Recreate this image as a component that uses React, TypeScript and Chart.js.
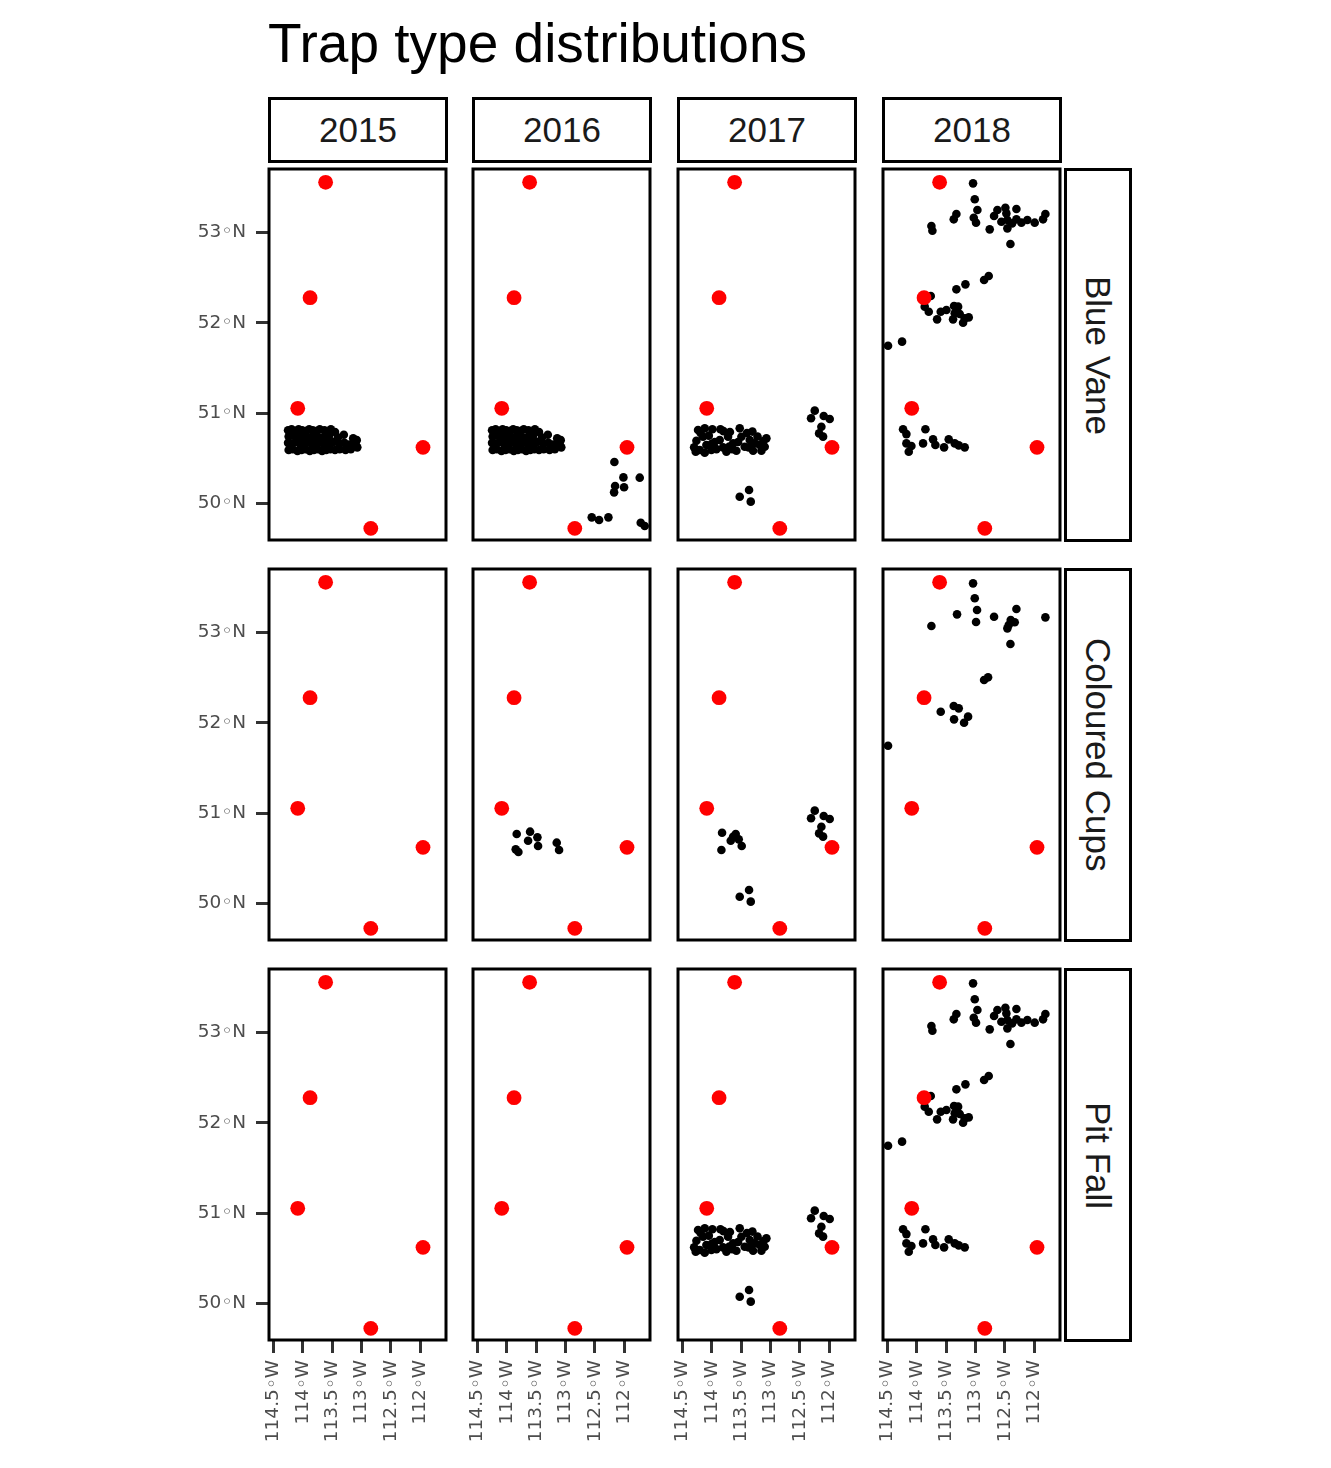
import React, { useEffect, useRef } from "react";
import { Chart, registerables } from "chart.js";

Chart.register(...registerables);

// ---------------- data ----------------
const chartTitle = "Trap type distributions";
const years = ["2015", "2016", "2017", "2018"];
const trapTypes = ["Blue Vane", "Coloured Cups", "Pit Fall"];

const latTicks = [50, 51, 52, 53];
const latTickLabels = ["50◦N", "51◦N", "52◦N", "53◦N"];
const lonTicks = [-114.5, -114, -113.5, -113, -112.5, -112];
const lonTickLabels = ["114.5◦W", "114◦W", "113.5◦W", "113◦W", "112.5◦W", "112◦W"];

const lonMin = -114.575;
const lonMax = -111.558;
const latMin = 49.593;
const latMax = 53.706;

// reference locations (red)
const refLon = [-113.61, -113.875, -114.085, -111.95, -112.84];
const refLat = [53.558, 52.279, 51.053, 50.62, 49.722];

type P = [number, number];

// dense southern cluster (Blue Vane 2015 / 2016)
const clusterSouth: P[] = [
  [-114.25, 50.81], [-114.19, 50.82], [-114.13, 50.80], [-114.07, 50.82], [-114.01, 50.81],
  [-113.95, 50.80], [-113.89, 50.82], [-113.83, 50.81], [-113.77, 50.80], [-113.71, 50.82],
  [-113.63, 50.81], [-113.52, 50.82], [-113.45, 50.79],
  [-114.24, 50.74], [-114.17, 50.75], [-114.10, 50.73], [-114.04, 50.74], [-113.97, 50.75],
  [-113.90, 50.73], [-113.84, 50.74], [-113.77, 50.75], [-113.70, 50.73], [-113.62, 50.74],
  [-113.55, 50.75], [-113.40, 50.73], [-113.30, 50.76], [-113.14, 50.72], [-113.08, 50.70],
  [-114.25, 50.67], [-114.18, 50.66], [-114.11, 50.68], [-114.05, 50.66], [-113.98, 50.67],
  [-113.91, 50.68], [-113.85, 50.66], [-113.78, 50.67], [-113.71, 50.68], [-113.64, 50.66],
  [-113.57, 50.67], [-113.48, 50.68], [-113.38, 50.66], [-113.29, 50.67], [-113.21, 50.65],
  [-113.10, 50.66],
  [-114.24, 50.59], [-114.17, 50.60], [-114.09, 50.58], [-114.02, 50.59], [-113.95, 50.60],
  [-113.88, 50.58], [-113.81, 50.59], [-113.74, 50.60], [-113.67, 50.58], [-113.60, 50.59],
  [-113.53, 50.60], [-113.45, 50.59], [-113.37, 50.60], [-113.27, 50.59], [-113.18, 50.60],
  [-113.07, 50.62],
];

// south-east sites, Blue Vane 2016
const southEast2016: P[] = [
  [-112.165, 50.457], [-112.011, 50.287], [-111.733, 50.284], [-112.153, 50.191],
  [-112.17, 50.121], [-112.0, 50.177], [-112.551, 49.844], [-112.426, 49.815],
  [-112.267, 49.844], [-111.716, 49.785], [-111.648, 49.748],
];

// southern cluster 2017
const cluster2017: P[] = [
  [-114.233, 50.812], [-114.119, 50.831], [-113.989, 50.82], [-113.852, 50.82],
  [-113.523, 50.831], [-113.307, 50.795], [-113.068, 50.72], [-114.261, 50.694],
  [-114.148, 50.738], [-114.091, 50.646], [-114.205, 50.591], [-114.006, 50.591],
  [-113.864, 50.701], [-113.807, 50.62], [-113.722, 50.738], [-113.636, 50.664],
  [-113.58, 50.583], [-113.494, 50.738], [-113.438, 50.627], [-113.352, 50.701],
  [-113.267, 50.664], [-113.182, 50.646], [-113.097, 50.627], [-113.295, 50.583],
  [-113.153, 50.583], [-114.273, 50.572], [-114.119, 50.561], [-113.75, 50.572],
  [-114.19, 50.78], [-114.05, 50.75], [-113.95, 50.68], [-113.92, 50.60],
  [-113.80, 50.80], [-113.69, 50.79], [-113.65, 50.60], [-113.55, 50.68],
  [-113.40, 50.78], [-113.37, 50.62], [-113.22, 50.74], [-113.12, 50.69],
  [-114.30, 50.62], [-114.00, 50.66], [-113.70, 50.63],
];
const east2017: P[] = [
  [-112.244, 51.027], [-112.307, 50.942], [-112.091, 50.967], [-111.989, 50.934],
  [-112.131, 50.849], [-112.17, 50.775], [-112.102, 50.739],
];
const south2017: P[] = [[-113.364, 50.147], [-113.523, 50.073], [-113.335, 50.018]];

// 2018 sites
const north2018: P[] = [
  [-113.04, 53.547], [-113.011, 53.37], [-112.966, 53.251], [-113.028, 53.166],
  [-112.989, 53.111], [-113.324, 53.207], [-113.369, 53.148], [-113.75, 53.074],
  [-113.733, 53.022], [-112.682, 53.185], [-112.625, 53.251], [-112.489, 53.277],
  [-112.472, 53.214], [-112.301, 53.262], [-112.557, 53.122], [-112.455, 53.14],
  [-112.455, 53.048], [-112.375, 53.103], [-112.301, 53.148], [-112.216, 53.111],
  [-112.114, 53.14], [-111.989, 53.111], [-111.847, 53.148], [-111.807, 53.207],
  [-112.756, 53.037], [-112.403, 52.874],
];
const mid2018: P[] = [
  [-112.852, 52.475], [-112.773, 52.52], [-113.17, 52.427], [-113.324, 52.372],
  [-113.761, 52.298], [-113.864, 52.18], [-113.795, 52.124], [-113.653, 52.039],
  [-113.591, 52.124], [-113.494, 52.143], [-113.364, 52.187], [-113.295, 52.18],
  [-113.352, 52.106], [-113.267, 52.098], [-113.381, 52.039], [-113.21, 52.002],
  [-113.182, 52.05], [-113.114, 52.061],
];
const west2018: P[] = [[-114.489, 51.747], [-114.25, 51.792]];
const south2018: P[] = [
  [-114.233, 50.82], [-114.176, 50.767], [-113.852, 50.82], [-114.176, 50.664],
  [-114.091, 50.635], [-114.136, 50.572], [-113.892, 50.664], [-113.722, 50.709],
  [-113.682, 50.646], [-113.534, 50.62], [-113.455, 50.709], [-113.352, 50.664],
  [-113.284, 50.642], [-113.182, 50.62],
];

// Coloured Cups
const cups2016: P[] = [
  [-113.83, 50.768], [-113.602, 50.794], [-113.477, 50.731], [-113.636, 50.694],
  [-113.466, 50.635], [-113.847, 50.598], [-113.801, 50.568], [-113.148, 50.672],
  [-113.108, 50.591],
];
const cups2017: P[] = [
  [-113.824, 50.782], [-113.591, 50.767], [-113.636, 50.738], [-113.676, 50.694],
  [-113.54, 50.709], [-113.489, 50.635], [-113.835, 50.591],
];
const cups2018: P[] = [
  [-113.04, 53.547], [-113.011, 53.381], [-112.972, 53.251], [-112.989, 53.118],
  [-113.313, 53.203], [-113.75, 53.074], [-112.682, 53.177], [-112.301, 53.262],
  [-112.398, 53.14], [-112.33, 53.115], [-112.455, 53.048], [-112.432, 53.085],
  [-111.807, 53.17], [-112.403, 52.874], [-112.852, 52.475], [-112.784, 52.505],
  [-113.591, 52.124], [-113.369, 52.187], [-113.284, 52.161], [-113.364, 52.039],
  [-113.193, 52.002], [-113.125, 52.069], [-114.489, 51.747],
];

const blueVane: P[][] = [
  clusterSouth,
  [...clusterSouth, ...southEast2016],
  [...cluster2017, ...east2017, ...south2017],
  [...north2018, ...mid2018, ...west2018, ...south2018],
];
const colouredCups: P[][] = [
  [],
  cups2016,
  [...cups2017, ...east2017, ...south2017],
  cups2018,
];
const pitFall: P[][] = [
  [],
  [],
  [...cluster2017, ...east2017, ...south2017],
  [...north2018, ...mid2018, ...west2018, ...south2018],
];
const trapData: P[][][] = [blueVane, colouredCups, pitFall];

// ---------------- layout ----------------
const FONT = "'Liberation Sans', Arial, Helvetica, sans-serif";
const TICK_FONT = "'DejaVu Sans', 'Liberation Sans', sans-serif";
const PANEL_W = 177;
const PANEL_H = 371;
const COL_LEFT = [269, 473, 678, 883];
const ROW_TOP = [169, 569, 969];
const PAD = 12;
const YW = 78;
const XH = 110;

const panelBorder = {
  id: "panelBorder",
  afterDraw(chart: any) {
    const { ctx, chartArea } = chart;
    const { left, top, right, bottom } = chartArea;
    ctx.save();
    ctx.strokeStyle = "#000000";
    ctx.lineWidth = 3;
    ctx.strokeRect(left, top, right - left, bottom - top);
    ctx.restore();
  },
};

function Panel({ row, col }: { row: number; col: number }) {
  const ref = useRef<HTMLCanvasElement | null>(null);
  const showY = col === 0;
  const showX = row === trapTypes.length - 1;
  const w = PANEL_W + 2 * PAD + (showY ? YW : 0);
  const h = PANEL_H + 2 * PAD + (showX ? XH : 0);
  const left = COL_LEFT[col] - PAD - (showY ? YW : 0);
  const top = ROW_TOP[row] - PAD;

  useEffect(() => {
    if (!ref.current) return;
    const traps = trapData[row][col];
    const tickFont = { family: TICK_FONT, size: 18.5 };
    const chart = new Chart(ref.current, {
      type: "scatter",
      data: {
        datasets: [
          {
            label: "Reference",
            data: refLon.map((x, i) => ({ x, y: refLat[i] })),
            backgroundColor: "#FF0000",
            pointRadius: 7.4,
            pointBorderWidth: 0,
            borderWidth: 0,
            order: 0,
          },
          {
            label: "Traps",
            data: traps.map(([x, y]) => ({ x, y })),
            backgroundColor: "#000000",
            pointRadius: 4.3,
            pointBorderWidth: 0,
            borderWidth: 0,
            order: 1,
          },
        ],
      },
      options: {
        animation: false,
        responsive: false,
        devicePixelRatio: 1,
        events: [],
        layout: { padding: PAD, autoPadding: false },
        plugins: { legend: { display: false }, tooltip: { enabled: false }, title: { display: false } },
        scales: {
          x: {
            type: "linear",
            min: lonMin,
            max: lonMax,
            display: showX,
            afterBuildTicks: (s: any) => {
              s.ticks = lonTicks.map((v) => ({ value: v }));
            },
            afterFit: (s: any) => {
              s.height = showX ? XH : 0;
              s.paddingLeft = 0;
              s.paddingRight = 0;
              s.paddingTop = 0;
              s.paddingBottom = 0;
            },
            ticks: {
              autoSkip: false,
              minRotation: 90,
              maxRotation: 90,
              padding: 7,
              color: "#4D4D4D",
              font: tickFont,
              callback: (v: any) => lonTickLabels[lonTicks.indexOf(Number(v))] ?? "",
            },
            grid: {
              display: true,
              drawOnChartArea: false,
              drawTicks: true,
              tickLength: 13,
              color: "#333333",
              lineWidth: 3,
            },
            border: { display: false },
          },
          y: {
            type: "linear",
            min: latMin,
            max: latMax,
            display: showY,
            afterBuildTicks: (s: any) => {
              s.ticks = latTicks.map((v) => ({ value: v }));
            },
            afterFit: (s: any) => {
              s.width = showY ? YW : 0;
              s.paddingLeft = 0;
              s.paddingRight = 0;
              s.paddingTop = 0;
              s.paddingBottom = 0;
            },
            ticks: {
              autoSkip: false,
              padding: 10,
              color: "#4D4D4D",
              font: tickFont,
              callback: (v: any) => latTickLabels[latTicks.indexOf(Number(v))] ?? "",
            },
            grid: {
              display: true,
              drawOnChartArea: false,
              drawTicks: true,
              tickLength: 13,
              color: "#333333",
              lineWidth: 3,
            },
            border: { display: false },
          },
        },
      },
      plugins: [panelBorder],
    } as any);
    return () => chart.destroy();
  }, [row, col]);

  return (
    <canvas
      ref={ref}
      width={w}
      height={h}
      style={{ position: "absolute", left, top, width: w, height: h }}
    />
  );
}

export default function App() {
  return (
    <div
      style={{
        position: "absolute",
        left: 0,
        top: 0,
        width: 1331,
        height: 1468,
        background: "#FFFFFF",
        fontFamily: FONT,
        overflow: "hidden",
      }}
    >
      <div
        style={{
          position: "absolute",
          left: 268,
          top: 16,
          fontSize: 55,
          lineHeight: "55px",
          color: "#000000",
          whiteSpace: "nowrap",
        }}
      >
        {chartTitle}
      </div>
      {years.map((y, c) => (
        <div
          key={"ys" + y}
          style={{
            position: "absolute",
            left: COL_LEFT[c] - 1,
            top: 97,
            width: PANEL_W + 3,
            height: 66,
            boxSizing: "border-box",
            border: "3px solid #000000",
            background: "#FFFFFF",
            display: "flex",
            alignItems: "center",
            justifyContent: "center",
            fontSize: 35,
            color: "#1A1A1A",
          }}
        >
          {y}
        </div>
      ))}
      {trapTypes.map((t, r) => (
        <div
          key={"ts" + t}
          style={{
            position: "absolute",
            left: 1064,
            top: ROW_TOP[r] - 1,
            width: 68,
            height: PANEL_H + 3,
            boxSizing: "border-box",
            border: "3px solid #000000",
            background: "#FFFFFF",
            display: "flex",
            alignItems: "center",
            justifyContent: "center",
            fontSize: 35,
            color: "#1A1A1A",
            writingMode: "vertical-rl",
            whiteSpace: "nowrap",
          }}
        >
          {t}
        </div>
      ))}
      {trapTypes.map((t, r) =>
        years.map((y, c) => <Panel key={t + y} row={r} col={c} />)
      )}
    </div>
  );
}
